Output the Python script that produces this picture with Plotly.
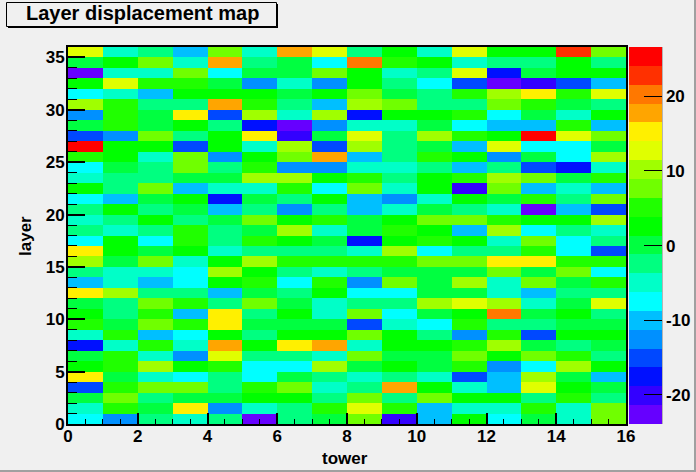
import plotly.graph_objects as go

tower_edges = list(range(17))
layer_edges = list(range(37))

# displacement, one list per layer (tower 0..15)
layer_0 = [-7.5, -12.5, -2.5, -5, -2.5, -22.5, -2.5, 0, 7.5, -20, -10, 2.5, -7.5, 0, -5, 7.5]
layer_1 = [-5, 5, 0, 15, -12.5, -5, -2.5, 5, 12.5, 5, -10, -5, -5, 5, -5, 7.5]
layer_2 = [0, 7.5, -2.5, 0, 0, 2.5, 2.5, -2.5, 7.5, -2.5, 7.5, 2.5, 2.5, -2.5, 5, -2.5]
layer_3 = [-15, 5, 7.5, 7.5, -2.5, 5, 7.5, -5, -2.5, 17.5, 2.5, -5, -10, 12.5, 2.5, 0]
layer_4 = [15, 0, -5, -7.5, -2.5, -7.5, 0, -2.5, -5, -2.5, -5, -15, -10, 10, 0, -10]
layer_5 = [2.5, 5, 10, 2.5, 5, -7.5, -7.5, 10, 0, 2.5, 0, 5, -12.5, -7.5, 10, 2.5]
layer_6 = [0, 5, -5, -12.5, 12.5, -2.5, -2.5, -5, 7.5, 0, 0, 7.5, 2.5, 7.5, 5, -2.5]
layer_7 = [-17.5, -5, 5, -5, 17.5, 2.5, 15, 17.5, -5, 2.5, 2.5, 5, 10, 0, -2.5, 0]
layer_8 = [-5, 5, -10, -7.5, 2.5, -2.5, 2.5, 2.5, 7.5, 2.5, -2.5, -12.5, 5, -15, 2.5, 2.5]
layer_9 = [5, 0, 7.5, 5, 15, 0, 0, 0, -15, -5, -7.5, 5, -2.5, -2.5, 0, 0]
layer_10 = [2.5, -2.5, 5, -10, 15, -2.5, 2.5, -5, 7.5, -7.5, 0, 2.5, 20, 0, 2.5, -2.5]
layer_11 = [0, -2.5, 7.5, 5, -2.5, 7.5, 0, -5, -2.5, -2.5, 10, 12.5, 10, -5, 0, 12.5]
layer_12 = [15, 10, -2.5, -2.5, -10, 0, -2.5, 2.5, -7.5, -7.5, 0, 0, -5, -10, -2.5, -2.5]
layer_13 = [-10, -5, -10, -7.5, 2.5, 5, -7.5, 5, -12.5, 7.5, 0, 10, -5, 7.5, 0, 5]
layer_14 = [-2.5, -5, -5, -7.5, 10, 2.5, -2.5, -5, -2.5, 0, 0, 0, 7.5, 0, 7.5, -7.5]
layer_15 = [10, 0, 7.5, -5, 2.5, 10, 5, 5, 5, 5, 7.5, 7.5, 15, 15, 5, 5]
layer_16 = [15, 2.5, 0, 2.5, -5, -2.5, -2.5, -2.5, -5, 10, -7.5, -2.5, -2.5, 5, -7.5, -15]
layer_17 = [-7.5, 2.5, -7.5, 5, -2.5, 5, 2.5, 0, -17.5, 2.5, 5, 2.5, -5, 7.5, -7.5, -2.5]
layer_18 = [-2.5, -5, -2.5, 5, -2.5, 0, 10, -5, 0, 5, 2.5, -10, 10, -7.5, -2.5, -5]
layer_19 = [-5, -2.5, 2.5, -2.5, 0, 7.5, 2.5, 5, 0, 2.5, 7.5, 7.5, 5, 2.5, 2.5, 10]
layer_20 = [-2.5, 2.5, -2.5, 0, -10, -2.5, -12.5, -2.5, -10, -5, 0, -2.5, -5, -22.5, -10, -15]
layer_21 = [-7.5, -10, 0, 2.5, -17.5, 0, -2.5, 2.5, -10, -12.5, -5, 2.5, 0, 5, -2.5, 7.5]
layer_22 = [2.5, -2.5, 7.5, -10, -5, -5, 5, -7.5, 7.5, -5, 2.5, -20, 7.5, -10, -5, -10]
layer_23 = [-5, -2.5, -2.5, 0, 0, 10, 10, 2.5, 5, -2.5, 2.5, 5, 10, 7.5, 0, 5]
layer_24 = [-7.5, 0, -2.5, 7.5, -2.5, 5, -12.5, -12.5, -5, -5, -2.5, -10, -2.5, -15, -17.5, -5]
layer_25 = [5, 2.5, -5, 7.5, -12.5, 2.5, 7.5, 17.5, -10, -2.5, 5, 2.5, -12.5, 0, -7.5, 10]
layer_26 = [25, 2.5, 2.5, -15, 2.5, -5, 10, -15, 10, -2.5, 0, -10, 12.5, -7.5, -7.5, 0]
layer_27 = [-15, -12.5, 7.5, -2.5, 2.5, 15, -20, 0, 12.5, -2.5, 10, 5, 2.5, 25, 12.5, 7.5]
layer_28 = [0, 5, 0, 2.5, -2.5, -17.5, -22.5, -12.5, -5, -5, 0, -7.5, -10, -10, 5, -10]
layer_29 = [-12.5, 5, 0, 15, -15, 10, -5, 10, -17.5, 2.5, 2.5, 5, -7.5, 0, -5, 2.5]
layer_30 = [10, 5, -2.5, -2.5, 17.5, 5, -2.5, -10, 10, 7.5, -2.5, -2.5, 7.5, 5, 0, -2.5]
layer_31 = [-7.5, -5, -10, 2.5, 2.5, 2.5, 0, 2.5, 7.5, 0, -2.5, 5, 10, 15, 5, 12.5]
layer_32 = [2.5, 12.5, 5, 5, 0, -12.5, -5, -12.5, 2.5, -2.5, -7.5, -15, -22.5, -20, -15, -10]
layer_33 = [-22.5, -5, -5, 7.5, -7.5, 0, 0, 7.5, 2.5, -5, -2.5, 12.5, -17.5, 0, 2.5, 2.5]
layer_34 = [0, 2.5, 7.5, -5, 17.5, -2.5, 0, -7.5, 20, 5, 2.5, -5, -2.5, -2.5, 2.5, -2.5]
layer_35 = [12.5, -5, -2.5, -10, 7.5, -5, 17.5, 12.5, -2.5, 2.5, -5, 12.5, 2.5, 2.5, 22.5, 7.5]

z = [layer_0, layer_1, layer_2, layer_3, layer_4, layer_5, layer_6, layer_7, layer_8,
     layer_9, layer_10, layer_11, layer_12, layer_13, layer_14, layer_15, layer_16, layer_17,
     layer_18, layer_19, layer_20, layer_21, layer_22, layer_23, layer_24, layer_25, layer_26,
     layer_27, layer_28, layer_29, layer_30, layer_31, layer_32, layer_33, layer_34, layer_35]

# the 20 bands of the palette, bottom to top
band_colors = ["#6600ff", "#3300ff", "#0010ff", "#0048ff", "#0090ff", "#00bfff", "#00ffff",
               "#00ffc8", "#00ff80", "#00ff40", "#00ff00", "#20ff00", "#70ff00", "#a0ff00",
               "#e0ff00", "#fff000", "#ffa500", "#ff7800", "#ff3000", "#ff0000"]
z_min = -23.9
z_max = 26.6

bar_ticks = [-20, -10, 0, 10, 20]
bar_labels = ["-20", "-10", "0", "10", "20"]

colorscale = []
for i, c in enumerate(band_colors):
    colorscale.append([i / 20, c])
    colorscale.append([(i + 1) / 20, c])

W, H = 696, 472
L, R, T, B = 68, 626, 47, 424
BG = "#f0f0f0"


def px(x):
    return (x - L) / (R - L)


def py(y):
    return (B - y) / (B - T)


font_name = "Liberation Sans"

fig = go.Figure(go.Heatmap(
    x=tower_edges,
    y=layer_edges,
    z=z,
    zmin=z_min,
    zmax=z_max,
    colorscale=colorscale,
    colorbar=dict(
        x=px(629), xanchor="left", xpad=0,
        y=0, yanchor="bottom", ypad=0,
        len=1, lenmode="fraction",
        thickness=32.5, thicknessmode="pixels",
        outlinewidth=0,
        tickmode="array", tickvals=bar_ticks, ticktext=bar_labels,
        ticks="inside", ticklen=18, tickwidth=1, tickcolor="black",
        tickfont=dict(family=font_name, size=17, color="black", weight="bold"),
    ),
))

fig.update_xaxes(
    range=[0, 16], tick0=0, dtick=2,
    ticks="inside", ticklen=11, tickwidth=1.5, tickcolor="black",
    minor=dict(dtick=0.5, ticks="inside", ticklen=5.5, tickwidth=1, tickcolor="black"),
    showgrid=False, zeroline=False,
    showline=True, linecolor="black", linewidth=2, mirror=True,
    ticklabelstandoff=-4,
    tickfont=dict(family=font_name, size=17, color="black", weight="bold"),
)
fig.update_yaxes(
    range=[0, 36], tick0=0, dtick=5,
    ticks="inside", ticklen=17, tickwidth=1.5, tickcolor="black",
    minor=dict(dtick=1, ticks="inside", ticklen=8.5, tickwidth=1, tickcolor="black"),
    showgrid=False, zeroline=False,
    showline=True, linecolor="black", linewidth=2, mirror=True,
    ticklabelstandoff=-2,
    tickfont=dict(family=font_name, size=17, color="black", weight="bold"),
)

shapes = [
    # title box with its shadow
    dict(type="rect", xref="paper", yref="paper", x0=px(8), x1=px(278), y0=py(28), y1=py(4),
         fillcolor="black", line_width=0, layer="above"),
    dict(type="rect", xref="paper", yref="paper", x0=px(6.5), x1=px(276.5), y0=py(26.5), y1=py(2.5),
         fillcolor=BG, line=dict(color="black", width=1), layer="above"),
    # palette edge
    dict(type="line", xref="paper", yref="paper", x0=px(661.5), x1=px(661.5), y0=py(424), y1=py(47),
         line=dict(color="black", width=1.5), layer="above"),
    # canvas border
    dict(type="rect", xref="paper", yref="paper", x0=px(694), x1=px(696), y0=py(472), y1=py(0),
         fillcolor="#a0a0a0", line_width=0, layer="above"),
    dict(type="rect", xref="paper", yref="paper", x0=px(0), x1=px(696), y0=py(472), y1=py(470),
         fillcolor="#a0a0a0", line_width=0, layer="above"),
]

annotations = [
    dict(text="<b>Layer displacement map</b>", xref="paper", yref="paper", x=px(24), y=py(13),
         xanchor="left", yanchor="middle", showarrow=False,
         font=dict(family=font_name, size=20, color="black")),
    dict(text="<b>tower</b>", xref="paper", yref="paper", x=px(345), y=py(458),
         xanchor="center", yanchor="middle", showarrow=False,
         font=dict(family=font_name, size=17, color="black")),
    dict(text="<b>layer</b>", xref="paper", yref="paper", x=px(25), y=py(236),
         xanchor="center", yanchor="middle", showarrow=False, textangle=-90,
         font=dict(family=font_name, size=17, color="black")),
]

fig.update_layout(
    width=W, height=H, autosize=False,
    margin=dict(l=L, r=W - R, t=T, b=H - B, pad=0, autoexpand=False),
    paper_bgcolor=BG, plot_bgcolor=BG,
    shapes=shapes, annotations=annotations,
)

fig.write_html("out.html", config={"displayModeBar": False},
               post_script="document.body.style.margin='0';")
